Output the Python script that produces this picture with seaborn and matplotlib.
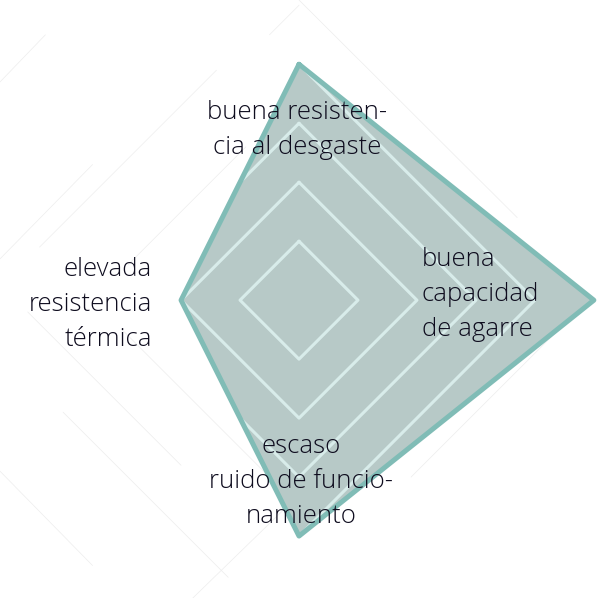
import numpy as np
import pandas as pd
import matplotlib
matplotlib.use("Agg")
import matplotlib.pyplot as plt
import seaborn as sns
from matplotlib.patches import Polygon

# radar data (clockwise from top)
categories = ["buena resisten-\ncia al desgaste",
              "buena\ncapacidad\nde agarre",
              "escaso\nruido de funcio-\nnamiento",
              "elevada\nresistencia\ntérmica"]
values = [4, 5, 4, 2]
grid_levels = [1, 2, 3, 4, 5]
angles_deg = [90, 0, 270, 180]

sns.set_theme(style="white")
plt.rcParams['font.family'] = ['Open Sans', 'DejaVu Sans']

fill_col = "#b7c9c7"
edge_col = "#80bcb6"
grid_col = "#d8ecea"
text_col = "#0e0c1e"

ang = np.deg2rad(angles_deg)

fig = plt.figure(figsize=(5.98, 5.98), dpi=100)
ax = fig.add_axes([0, 0, 1, 1])
ax.set_xlim(-5.07, 5.07)
ax.set_ylim(-5.05, 5.09)
ax.set_aspect("equal")
ax.axis("off")

# faint decorative diagonal strokes in the background
for x0, y0, x1, y1 in [(-5.07, 3.7, -4.3, 4.5), (-0.5, 4.5, 0.0, 5.0),
                       (-4.4, 0.9, -1.4, 3.9), (-2.9, 0.6, -0.9, 2.6),
                       (-5.07, 0.7, -3.5, 2.3), (0.0, 5.09, 3.7, 1.4),
                       (-4.6, -0.2, -2.0, -2.8), (-5.07, -2.9, -3.5, -4.5),
                       (-3.0, -0.5, -0.4, -3.1), (-1.8, -5.05, 0.0, -3.3),
                       (1.9, -3.0, 4.6, -0.3), (-4.0, -1.9, -1.2, -4.7)]:
    ax.plot([x0, x1], [y0, y1], color="#ededed", lw=0.5, zorder=0)

# filled polygon
r = np.array(values, dtype=float)
poly = pd.DataFrame({"x": r * np.cos(ang), "y": r * np.sin(ang)})
ax.fill(poly["x"], poly["y"], color=fill_col, zorder=1, lw=0)

# grid diamonds, visible only inside the polygon
clip = Polygon(poly[["x", "y"]].values, closed=True, transform=ax.transData)
for lvl in grid_levels:
    gx = np.append(lvl * np.cos(ang), lvl * np.cos(ang[0]))
    gy = np.append(lvl * np.sin(ang), lvl * np.sin(ang[0]))
    gl, = ax.plot(gx, gy, color=grid_col, lw=2.2, zorder=2)
    gl.set_clip_path(clip)

# outline
closed = pd.concat([poly, poly.iloc[[0]]], ignore_index=True)
sns.lineplot(data=closed, x="x", y="y", sort=False, estimator=None,
             color=edge_col, lw=3.6, ax=ax, zorder=4)

# labels
lbl_kw = dict(fontsize=18.5, color=text_col, linespacing=1.53,
              fontweight="light", zorder=5)
ax.text(-0.03, 2.88, categories[0], ha="center", va="center", **lbl_kw)
ax.text(2.08, 0.1, categories[1], ha="left", va="center", **lbl_kw)
ax.text(0.04, -3.07, categories[2], ha="center", va="center", **lbl_kw)
ax.text(-2.49, -0.08, categories[3], ha="right", va="center", **lbl_kw)

fig.savefig("out.png", dpi=100)
